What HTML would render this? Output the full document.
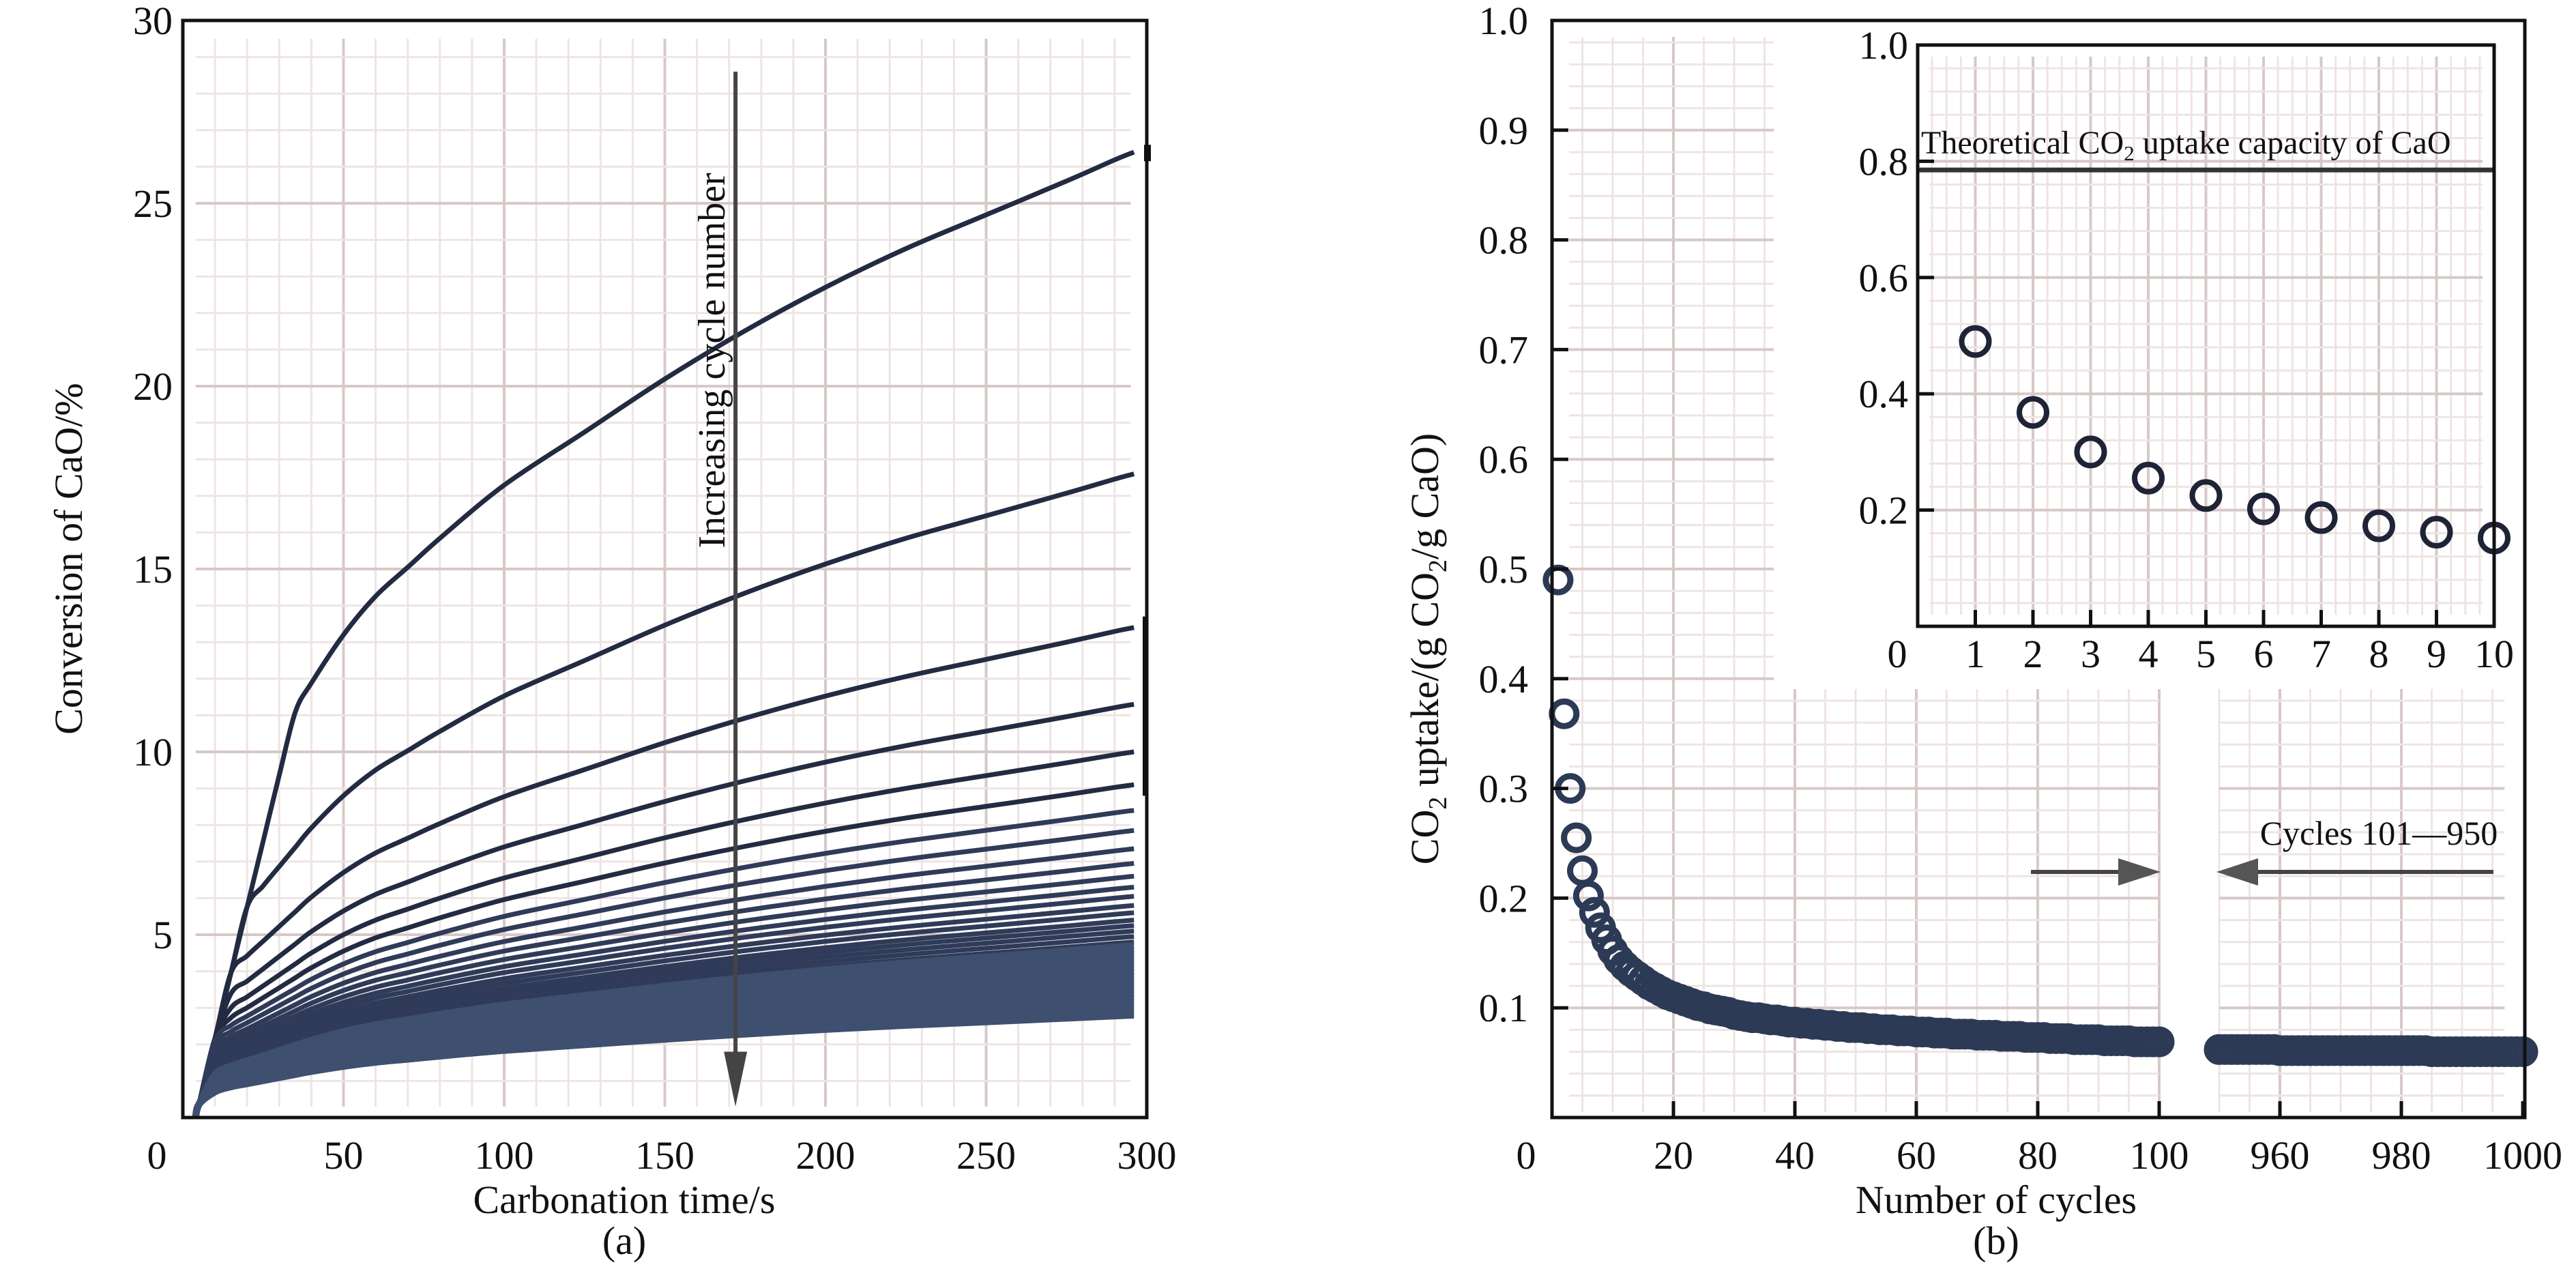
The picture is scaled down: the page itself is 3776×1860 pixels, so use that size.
<!DOCTYPE html>
<html><head><meta charset="utf-8"><style>
html,body{margin:0;padding:0;background:#fff}
svg{display:block}
text{font-family:"Liberation Serif",serif;fill:#111}
</style></head><body>
<svg id="fig" width="3776" height="1860" viewBox="0 0 3776 1860" xmlns="http://www.w3.org/2000/svg" font-family="Liberation Serif, serif"></svg>
<script>
// ---------- Panel (a) data ----------
const timeGrid = [5,10,15,20,25,30,35,40,50,60,70,80,100,125,150,175,200,225,250,275,290,296];
const shapeProfile = [0.17,0.25,0.30,0.33,0.36,0.39,0.42,0.45,0.50,0.54,0.57,0.60,0.655,0.71,0.765,0.815,0.86,0.90,0.935,0.97,0.992,1.0];
const finalConversion = [26.4,17.6,13.4,11.3,10.0,9.1,8.4,7.85,7.35,6.95,6.6,6.3,6.05,5.8,5.6,5.4,5.25,5.1,4.95,4.8,4.7,4.6,4.5,4.4,4.3,4.2,4.1,4.0,3.9,3.8,3.7,3.6,3.5,3.4,3.3,3.2,3.1,3.0,2.9,2.8];
const xTicksA = [0,50,100,150,200,250,300];
const yTicksA = [5,10,15,20,25,30];
// ---------- Panel (b) data ----------
const uptake1to100 = [0.490,0.368,0.300,0.255,0.225,0.202,0.187,0.173,0.162,0.152,
0.144,0.138,0.133,0.129,0.125,0.121,0.118,0.115,0.112,0.110,
0.108,0.106,0.104,0.102,0.101,0.099,0.098,0.097,0.096,0.094,
0.093,0.092,0.091,0.091,0.090,0.089,0.089,0.088,0.087,0.087,
0.086,0.086,0.085,0.085,0.084,0.084,0.083,0.083,0.082,0.082,
0.082,0.081,0.081,0.080,0.080,0.080,0.079,0.079,0.079,0.078,
0.078,0.078,0.077,0.077,0.077,0.076,0.076,0.076,0.076,0.075,
0.075,0.075,0.075,0.074,0.074,0.074,0.074,0.073,0.073,0.073,
0.073,0.072,0.072,0.072,0.072,0.071,0.071,0.071,0.071,0.071,
0.070,0.070,0.070,0.070,0.070,0.069,0.069,0.069,0.069,0.069];
const uptake950to1000 = [0.062,0.062,0.062,0.062,0.062,0.062,0.062,0.062,0.062,0.062,
0.061,0.061,0.061,0.061,0.061,0.061,0.061,0.061,0.061,0.061,
0.061,0.061,0.061,0.061,0.061,0.061,0.061,0.061,0.061,0.061,
0.061,0.061,0.061,0.061,0.061,0.060,0.060,0.060,0.060,0.060,
0.060,0.060,0.060,0.060,0.060,0.060,0.060,0.060,0.060,0.060,0.060];
const insetCycles = [1,2,3,4,5,6,7,8,9,10];
const insetUptake = [0.490,0.368,0.300,0.255,0.225,0.202,0.187,0.173,0.162,0.152];
const theoreticalCapacity = 0.785;
const yTicksB = [0.1,0.2,0.3,0.4,0.5,0.6,0.7,0.8,0.9,1.0];
const xTicksB1 = [20,40,60,80,100];
const xTicksB2 = [960,980,1000];
const insetYTicks = [0.2,0.4,0.6,0.8,1.0];

const NS="http://www.w3.org/2000/svg";
const svg=document.getElementById('fig');
function mk(tag,attrs,parent){const e=document.createElementNS(NS,tag);for(const k in attrs)e.setAttribute(k,attrs[k]);(parent||svg).appendChild(e);return e;}
function txt(s,attrs,parent){const e=mk('text',attrs,parent);e.textContent=s;return e;}
function smooth(pts){
  let d='M'+pts[0][0].toFixed(1)+','+pts[0][1].toFixed(1);
  for(let i=0;i<pts.length-1;i++){
    const p0=pts[Math.max(i-1,0)],p1=pts[i],p2=pts[i+1],p3=pts[Math.min(i+2,pts.length-1)];
    const c1=[p1[0]+(p2[0]-p0[0])/6,p1[1]+(p2[1]-p0[1])/6];
    const c2=[p2[0]-(p3[0]-p1[0])/6,p2[1]-(p3[1]-p1[1])/6];
    d+=` C${c1[0].toFixed(1)},${c1[1].toFixed(1)} ${c2[0].toFixed(1)},${c2[1].toFixed(1)} ${p2[0].toFixed(1)},${p2[1].toFixed(1)}`;
  }
  return d;
}

// ===== Panel (a) =====
const A={x0:268,x1:1681,y0:1638,y1:30};
const ax=t=>A.x0+(t/300)*(A.x1-A.x0);
const ay=v=>A.y0-(v/30)*(A.y0-A.y1);
const gA=mk('g',{});


for(let t=10;t<300;t+=10){const l=mk('line',{x1:ax(t),x2:ax(t),y1:ay(29.5),y2:ay(0.3),stroke:t%50===0?'#d8c8c8':'#efe4e4','stroke-width':t%50===0?4:3},gA);}
for(let v=1;v<30;v++){const l=mk('line',{x1:ax(4),x2:ax(295),y1:ay(v),y2:ay(v),stroke:v%5===0?'#d8c8c8':'#efe4e4','stroke-width':v%5===0?4:3},gA);}
const slope=0.36;
finalConversion.forEach((f,i)=>{
  const pts=[[ax(4),ay(0)]];
  timeGrid.forEach((t,j)=>{const v=Math.min(slope*(t-4),f*shapeProfile[j]);pts.push([ax(t),ay(v)]);});
  const col=i<6?'#232b42':(i<20?'#2f3b58':'#3e4f6f');
  const p=mk('path',{d:smooth(pts),fill:'none',stroke:col,'stroke-width':i<20?7:10,'stroke-linejoin':'round'},gA);
  
  
});
mk('line',{x1:ax(300)-3,x2:ax(300)-3,y1:ay(13.7),y2:ay(8.8),stroke:'#111','stroke-width':6},gA);
mk('rect',{x:ax(300)-4,y:ay(26.6),width:10,height:24,fill:'#111'},gA);
const arr=mk('g',{},gA);


mk('line',{x1:ax(172),x2:ax(172),y1:ay(28.6),y2:ay(1.2),stroke:'#444','stroke-width':6},arr);
mk('polygon',{points:`${ax(172)-17},${ay(1.8)} ${ax(172)+17},${ay(1.8)} ${ax(172)},${ay(0.3)}`,fill:'#444'},arr);
const it=txt('Increasing cycle number',{x:0,y:0,'font-size':56,'text-anchor':'middle',transform:`translate(${ax(172)-16},${ay(20.7)}) rotate(-90)`},gA);


const fa=mk('rect',{x:A.x0,y:A.y1,width:A.x1-A.x0,height:A.y0-A.y1,fill:'none',stroke:'#111','stroke-width':5},gA);


xTicksA.forEach(t=>{const e=txt(String(t),{x:t===0?ax(0)-38:ax(t),y:1713,'font-size':58,'text-anchor':'middle'},gA);});
yTicksA.forEach(v=>{const e=txt(String(v),{x:253,y:ay(v)+20,'font-size':58,'text-anchor':'end'},gA);});
const xta=txt('Carbonation time/s',{x:915,y:1778,'font-size':58,'text-anchor':'middle'},gA);


const pa=txt('(a)',{x:915,y:1838,'font-size':58,'text-anchor':'middle'},gA);


const yta=txt('Conversion of CaO/%',{x:0,y:0,'font-size':58,'text-anchor':'middle',transform:'translate(120,819) rotate(-90)'},gA);



// ===== Panel (b) =====
const B={x0:2275,x1:3701,y0:1638,y1:30};
const bx=n=>n<=100?B.x0+n*8.9:3253+(n-950)*8.9;
const by=v=>B.y0-v*(B.y0-B.y1);
const gB=mk('g',{});


function gridSeg(n0,n1,xa,xb){
  for(let n=n0;n<=n1;n+=5){if(n===0)continue;const l=mk('line',{x1:bx(n),x2:bx(n),y1:by(0.985),y2:by(0.005),stroke:n%20===0?'#d8c8c8':'#efe4e4','stroke-width':n%20===0?4:3},gB);}
  for(let k=1;k<50;k++){const v=k*0.02;const l=mk('line',{x1:xa,x2:xb,y1:by(v),y2:by(v),stroke:k%5===0?'#d8c8c8':'#efe4e4','stroke-width':k%5===0?4:3},gB);}
}
gridSeg(5,100,B.x0+25,bx(100));
gridSeg(950,995,bx(950),bx(997));
uptake1to100.forEach((v,i)=>{const c=mk('circle',{cx:bx(i+1),cy:by(v),r:18,fill:'none',stroke:'#2d3a56','stroke-width':9},gB);});
uptake950to1000.forEach((v,i)=>{const c=mk('circle',{cx:bx(950+i),cy:by(v),r:18,fill:'none',stroke:'#2d3a56','stroke-width':9},gB);});
const ar=mk('g',{},gB);


mk('line',{x1:2977,x2:3130,y1:1278,y2:1278,stroke:'#444','stroke-width':6},ar);
mk('polygon',{points:'3105,1258 3167,1278 3105,1298',fill:'#555'},ar);
mk('line',{x1:3290,x2:3655,y1:1278,y2:1278,stroke:'#444','stroke-width':6},ar);
mk('polygon',{points:'3310,1258 3249,1278 3310,1298',fill:'#555'},ar);
const cl=txt('Cycles 101—950',{x:3487,y:1238,'font-size':50,'text-anchor':'middle'},gB);


const fb=mk('rect',{x:B.x0,y:B.y1,width:B.x1-B.x0,height:B.y0-B.y1,fill:'none',stroke:'#111','stroke-width':5},gB);


yTicksB.forEach(v=>{mk('line',{x1:B.x0,x2:B.x0+24,y1:by(v),y2:by(v),stroke:'#111','stroke-width':5},gB);const e=txt(v.toFixed(1),{x:2240,y:by(v)+20,'font-size':58,'text-anchor':'end'},gB);});
xTicksB1.concat(xTicksB2).forEach(n=>{mk('line',{x1:bx(n),x2:bx(n),y1:B.y0,y2:B.y0-24,stroke:'#111','stroke-width':5},gB);const e=txt(String(n),{x:bx(n),y:1713,'font-size':58,'text-anchor':'middle'},gB);});
txt('0',{x:2237,y:1713,'font-size':58,'text-anchor':'middle'},gB);
const xtb=txt('Number of cycles',{x:2926,y:1778,'font-size':58,'text-anchor':'middle'},gB);


const pb=txt('(b)',{x:2926,y:1838,'font-size':58,'text-anchor':'middle'},gB);


const ytb=mk('text',{x:0,y:0,'font-size':58,'text-anchor':'middle',transform:'translate(2108,951) rotate(-90)'},gB);


ytb.innerHTML='CO<tspan font-size="38" dy="12">2</tspan><tspan dy="-12"> uptake/(g CO</tspan><tspan font-size="38" dy="12">2</tspan><tspan dy="-12">/g CaO)</tspan>';

// ===== Inset =====
const I={x0:2811,x1:3656,y0:918,y1:66};
const ix=n=>I.x0+n*(I.x1-I.x0)/10;
const iy=v=>I.y0-v*(I.y0-I.y1);
const gI=mk('g',{});


mk('rect',{x:2600,y:40,width:1090,height:970,fill:'#fff'},gI);
for(let k=1;k<40;k++){const n=k*0.25;const l=mk('line',{x1:ix(n),x2:ix(n),y1:iy(0.98),y2:iy(0.02),stroke:k%4===0?'#d8c8c8':'#efe4e4','stroke-width':k%4===0?4:3},gI);}
for(let k=1;k<25;k++){const v=k*0.04;const l=mk('line',{x1:ix(0.2),x2:ix(9.8),y1:iy(v),y2:iy(v),stroke:k%5===0?'#d8c8c8':'#efe4e4','stroke-width':k%5===0?4:3},gI);}
const th=mk('line',{x1:I.x0,x2:I.x1,y1:iy(theoreticalCapacity),y2:iy(theoreticalCapacity),stroke:'#333','stroke-width':7},gI);


const tt=mk('text',{x:I.x0+5,y:iy(theoreticalCapacity)-24,'font-size':48},gI);


tt.innerHTML='Theoretical CO<tspan font-size="31" dy="10">2</tspan><tspan dy="-10"> uptake capacity of CaO</tspan>';
insetCycles.forEach((n,i)=>{const c=mk('circle',{cx:ix(n),cy:iy(insetUptake[i]),r:20,fill:'none',stroke:'#1e2436','stroke-width':8},gI);});
const fi=mk('rect',{x:I.x0,y:I.y1,width:I.x1-I.x0,height:I.y0-I.y1,fill:'none',stroke:'#111','stroke-width':5},gI);


insetYTicks.forEach(v=>{mk('line',{x1:I.x0,x2:I.x0+24,y1:iy(v),y2:iy(v),stroke:'#111','stroke-width':5},gI);const e=txt(v.toFixed(1),{x:2797,y:iy(v)+20,'font-size':58,'text-anchor':'end'},gI);});
insetCycles.forEach(n=>{mk('line',{x1:ix(n),x2:ix(n),y1:I.y0,y2:I.y0-24,stroke:'#111','stroke-width':5},gI);const e=txt(String(n),{x:ix(n),y:978,'font-size':58,'text-anchor':'middle'},gI);});
txt('0',{x:2781,y:978,'font-size':58,'text-anchor':'middle'},gI);
</script>
</body></html>
